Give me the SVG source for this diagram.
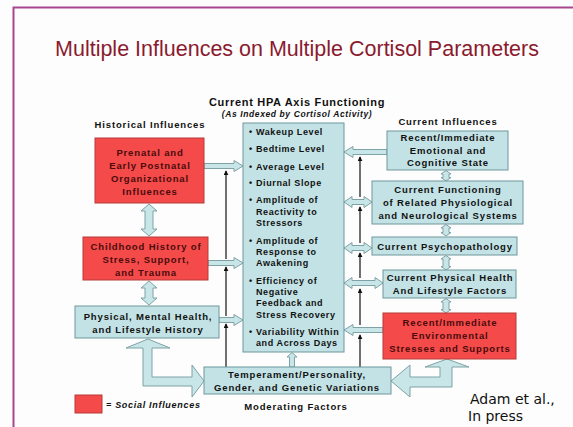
<svg xmlns="http://www.w3.org/2000/svg" width="573" height="427" viewBox="0 0 573 427">
<defs>
<style>
text{font-family:"Liberation Sans",Arial,sans-serif;font-weight:bold;fill:#111}
.bx{font-size:9.5px;letter-spacing:0.85px;text-anchor:middle}
.rt{fill:#4a0c0c}
.bl{font-size:9px;letter-spacing:0.6px}
.red{fill:#f44a4a;stroke:#b83a3a;stroke-width:1}
.blue{fill:#c2e2e5;stroke:#6e979b;stroke-width:1}
.ar{fill:#c8e6e8;stroke:#7fa2a6;stroke-width:1;stroke-linejoin:miter}
.ln{stroke:#111;stroke-width:1.2;fill:none;marker-end:url(#ah)}
</style>
<marker id="ah" viewBox="0 0 6 6" refX="5" refY="3" markerWidth="5" markerHeight="5" orient="auto" markerUnits="userSpaceOnUse">
<path d="M0,0 L6,3 L0,6 z" fill="#111"/>
</marker>
</defs>
<rect width="573" height="427" fill="#fdfdfd"/>
<path d="M13.5,427 V7.5 H573" fill="none" stroke="#a8478f" stroke-width="2"/>
<text x="297" y="56" font-size="21.5" style="font-weight:normal;fill:#8b1a2e" text-anchor="middle">Multiple Influences on Multiple Cortisol Parameters</text>

<text x="297" y="106" font-size="11" text-anchor="middle" letter-spacing="0.7">Current HPA Axis Functioning</text>
<text x="297" y="117" font-size="8.5" text-anchor="middle" font-style="italic" letter-spacing="0.6">(As Indexed by Cortisol Activity)</text>
<text x="150" y="128" class="bx">Historical Influences</text>
<text x="448" y="125" class="bx">Current Influences</text>

<g id="connectors">
<polygon class="ar" points="204,163.5 234,163.5 234,160.5 243,166 234,171.5 234,168.5 204,168.5"/>
<polygon class="ar" points="208,260.5 234,260.5 234,257.5 243,263 234,268.5 234,265.5 208,265.5"/>
<polygon class="ar" points="219,317.5 234,317.5 234,314.5 243,320 234,325.5 234,322.5 219,322.5"/>
<polygon class="ar" points="387,149.5 353,149.5 353,146.5 344,152 353,157.5 353,154.5 387,154.5"/>
<polygon class="ar" points="344,202 352,196.5 352,199.5 364,199.5 364,196.5 372,202 364,207.5 364,204.5 352,204.5 352,207.5"/>
<polygon class="ar" points="344,248 352,242.5 352,245.5 364,245.5 364,242.5 372,248 364,253.5 364,250.5 352,250.5 352,253.5"/>
<polygon class="ar" points="344,283 352,277.5 352,280.5 375,280.5 375,277.5 383,283 375,288.5 375,285.5 352,285.5 352,288.5"/>
<polygon class="ar" points="383,327.5 353,327.5 353,324.5 344,330 353,335.5 353,332.5 383,332.5"/>
<polygon class="ar" points="149,204 157,211 153,211 153,229 157,229 149,236 141,229 145,229 145,211 141,211"/>
<polygon class="ar" points="149,281 157,288 153,288 153,298 157,298 149,305 141,298 145,298 145,288 141,288"/>
<polygon class="ar" points="446,170.5 451,174 449,174 449,177.5 451,177.5 446,181 441,177.5 443,177.5 443,174 441,174"/>
<polygon class="ar" points="446,224.5 451,228 449,228 449,232.5 451,232.5 446,236 441,232.5 443,232.5 443,228 441,228"/>
<polygon class="ar" points="446,255.5 451,259 449,259 449,266.5 451,266.5 446,270 441,266.5 443,266.5 443,259 441,259"/>
<polygon class="ar" points="446,298.5 451,302 449,302 449,309.5 451,309.5 446,313 441,309.5 443,309.5 443,302 441,302"/>
<polygon class="ar" points="292,352.5 297,357 294.5,357 294.5,367 289.5,367 289.5,357 287,357"/>
<polygon class="ar" points="148,339 170,348 152,348 152,377 192,377 192,365 204,381 192,397 192,386 143,386 143,348 126,348"/>
<polygon class="ar" points="447,359 469,367 452,367 452,387 410,387 410,397 391,381 410,365 410,377 440,377 440,367 425,367"/>
<line class="ln" x1="226" y1="367" x2="226" y2="324"/>
<line class="ln" x1="226" y1="316" x2="226" y2="267"/>
<line class="ln" x1="226" y1="259" x2="226" y2="171"/>
<line class="ln" x1="360" y1="367" x2="360" y2="335"/>
<line class="ln" x1="360" y1="325" x2="360" y2="289"/>
<line class="ln" x1="360" y1="278" x2="360" y2="253"/>
<line class="ln" x1="360" y1="243" x2="360" y2="207"/>
<line class="ln" x1="360" y1="197" x2="360" y2="157"/>
</g>

<g id="prenatal">
<rect class="red" x="95" y="138" width="109" height="65"/>
<text class="bx rt" x="150" y="156">Prenatal and</text>
<text class="bx rt" x="150" y="169">Early Postnatal</text>
<text class="bx rt" x="150" y="182">Organizational</text>
<text class="bx rt" x="150" y="195">Influences</text>
</g>
<g id="childhood">
<rect class="red" x="83" y="237" width="125" height="43"/>
<text class="bx rt" x="146" y="250">Childhood History of</text>
<text class="bx rt" x="146" y="263">Stress, Support,</text>
<text class="bx rt" x="146" y="276">and Trauma</text>
</g>
<g id="physical">
<rect class="blue" x="75" y="306" width="144" height="32"/>
<text class="bx" x="148" y="320">Physical, Mental Health,</text>
<text class="bx" x="148" y="333">and Lifestyle History</text>
</g>

<g id="hpa">
<rect class="blue" x="243" y="123" width="101" height="229"/>
<g class="bl">
<text x="249" y="135">•</text><text x="256" y="135">Wakeup Level</text>
<text x="249" y="152">•</text><text x="256" y="152">Bedtime Level</text>
<text x="249" y="170">•</text><text x="256" y="170">Average Level</text>
<text x="249" y="186">•</text><text x="256" y="186">Diurnal Slope</text>
<text x="249" y="203">•</text><text x="256" y="203">Amplitude of</text>
<text x="256" y="215">Reactivity to</text>
<text x="256" y="226">Stressors</text>
<text x="249" y="244">•</text><text x="256" y="244">Amplitude of</text>
<text x="256" y="255">Response to</text>
<text x="256" y="266">Awakening</text>
<text x="249" y="284">•</text><text x="256" y="284">Efficiency of</text>
<text x="256" y="295">Negative</text>
<text x="256" y="306">Feedback and</text>
<text x="256" y="318">Stress Recovery</text>
<text x="249" y="335">•</text><text x="256" y="335">Variability Within</text>
<text x="256" y="346">and Across Days</text>
</g>
</g>

<g id="emotional">
<rect class="blue" x="387" y="131" width="121" height="39"/>
<text class="bx" x="448" y="141">Recent/Immediate</text>
<text class="bx" x="448" y="154">Emotional and</text>
<text class="bx" x="448" y="166">Cognitive State</text>
</g>
<g id="functioning">
<rect class="blue" x="372" y="181" width="151" height="43"/>
<text class="bx" x="448" y="193">Current Functioning</text>
<text class="bx" x="448" y="206">of Related Physiological</text>
<text class="bx" x="448" y="219">and Neurological Systems</text>
</g>
<g id="psychopathology">
<rect class="blue" x="372" y="237" width="145" height="18"/>
<text class="bx" x="445" y="250">Current Psychopathology</text>
</g>
<g id="physhealth">
<rect class="blue" x="383" y="270" width="133" height="28"/>
<text class="bx" x="450" y="281">Current Physical Health</text>
<text class="bx" x="450" y="294">And Lifestyle Factors</text>
</g>
<g id="environmental">
<rect class="red" x="383" y="313" width="133" height="46"/>
<text class="bx rt" x="450" y="326">Recent/Immediate</text>
<text class="bx rt" x="450" y="339">Environmental</text>
<text class="bx rt" x="450" y="352">Stresses and Supports</text>
</g>
<g id="temperament">
<rect class="blue" x="204" y="367" width="187" height="27"/>
<text class="bx" x="297" y="378">Temperament/Personality,</text>
<text class="bx" x="297" y="391">Gender, and Genetic Variations</text>
</g>
<text x="296" y="410" class="bx">Moderating Factors</text>

<g id="legend">
<rect class="red" x="75" y="395" width="27" height="18"/>
<text x="106" y="408" font-size="9" font-style="italic" letter-spacing="0.7">= Social Influences</text>
</g>
<text x="470" y="404" font-size="14" style="font-family:'DejaVu Sans',sans-serif;font-weight:normal">Adam et al.,</text>
<text x="468" y="421" font-size="14" style="font-family:'DejaVu Sans',sans-serif;font-weight:normal">In press</text>
</svg>
